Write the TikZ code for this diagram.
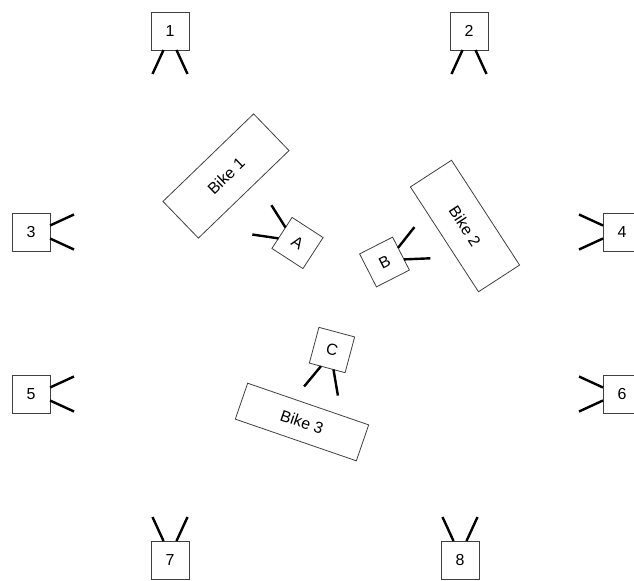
\documentclass[tikz,border=0pt]{standalone}
\usepackage{fontspec}
\setmainfont{Liberation Sans}
\usepackage{tikz}
\usetikzlibrary{positioning}

\begin{document}
\begin{tikzpicture}[
    x=1bp, y=-1bp,
    box/.style={rectangle, draw=black!75, fill=white, line width=0.8bp, minimum size=38bp, inner sep=0pt, font=\fontsize{16}{19}\selectfont},
    bike/.style={rectangle, draw=black!75, fill=white, line width=0.8bp, inner sep=0pt, font=\fontsize{16}{19}\selectfont},
    leg/.style={line width=2.4bp, black}
]
    \useasboundingbox (0,0) rectangle (634,581);
    \clip (0,0) rectangle (634,581);

    % Cameras
    \begin{scope}[shift={(170,31)}]
        \node[box] (cam1) {1};
        \draw[leg] (-6.5,19) -- (-17.5,43) (6.5,19) -- (17.5,43);
    \end{scope}
    \begin{scope}[shift={(469,31)}]
        \node[box] (cam2) {2};
        \draw[leg] (-6.5,19) -- (-17.5,43) (6.5,19) -- (17.5,43);
    \end{scope}
    \begin{scope}[shift={(31,232)}, rotate=90]
        \node[box] (cam3) {3};
        \draw[leg] (-6.5,19) -- (-17.5,43) (6.5,19) -- (17.5,43);
    \end{scope}
    \begin{scope}[shift={(622,232)}, rotate=-90]
        \node[box] (cam4) {4};
        \draw[leg] (-6.5,19) -- (-17.5,43) (6.5,19) -- (17.5,43);
    \end{scope}
    \begin{scope}[shift={(31,394)}, rotate=90]
        \node[box] (cam5) {5};
        \draw[leg] (-6.5,19) -- (-17.5,43) (6.5,19) -- (17.5,43);
    \end{scope}
    \begin{scope}[shift={(622,394)}, rotate=-90]
        \node[box] (cam6) {6};
        \draw[leg] (-6.5,19) -- (-17.5,43) (6.5,19) -- (17.5,43);
    \end{scope}
    \begin{scope}[shift={(170,560)}, rotate=180]
        \node[box] (cam7) {7};
        \draw[leg] (-6.5,19) -- (-17.5,43) (6.5,19) -- (17.5,43);
    \end{scope}
    \begin{scope}[shift={(460,560)}, rotate=180]
        \node[box] (cam8) {8};
        \draw[leg] (-6.5,19) -- (-17.5,43) (6.5,19) -- (17.5,43);
    \end{scope}

    % Bikes
    \node[bike, minimum width=126bp, minimum height=51bp, rotate=44] (bike1) at (226,176) {Bike 1};
    \node[bike, minimum width=125bp, minimum height=49bp, rotate=-57] (bike2) at (465,226) {Bike 2};
    \node[bike, minimum width=128bp, minimum height=38bp, rotate=-19] (bike3) at (302,422) {Bike 3};

    % Riders
    \begin{scope}[shift={(297.5,243)}, rotate=-123]
        \node[box, minimum size=37bp, rotate=-33] (ridA) {A};
        \draw[leg] (-6.5,18.5) -- (-17.5,42.5) (6.5,18.5) -- (17.5,42.5);
    \end{scope}
    \begin{scope}[shift={(384.5,262)}, rotate=117]
        \node[box, minimum size=37bp, rotate=27] (ridB) {B};
        \draw[leg] (-6.5,18.5) -- (-17.5,42.5) (6.5,18.5) -- (17.5,42.5);
    \end{scope}
    \begin{scope}[shift={(332,350)}, rotate=-15]
        \node[box, minimum size=37bp, rotate=-15] (ridC) {C};
        \draw[leg] (-6.5,18.5) -- (-17.5,42.5) (6.5,18.5) -- (17.5,42.5);
    \end{scope}
\end{tikzpicture}
\end{document}
